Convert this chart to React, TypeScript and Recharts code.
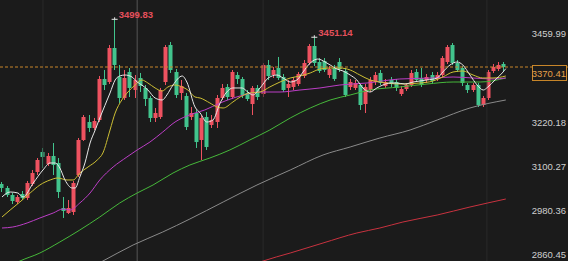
import React from 'react';
import { ComposedChart, Bar, Line, XAxis, YAxis, ReferenceLine, ReferenceDot } from 'recharts';

const W = 568;
const H = 261;
const BG = '#1b1b1b';
const RED = '#ee5260';
const GREEN = '#42c48d';

const opens = [
  3053.0, 3042.2, 3023.2, 3004.2, 3025.9, 3015.0, 3053.0, 3085.6, 3139.8, 3107.3,
  3129.0, 3110.0, 2987.9, 2974.3, 2977.0, 3077.4, 3172.4, 3221.2, 3204.9, 3226.6,
  3337.9, 3329.7, 3422.0, 3343.3, 3286.3, 3356.9, 3308.0, 3340.6, 3313.5, 3286.3,
  3232.1, 3234.8, 3329.7, 3430.1, 3356.9, 3299.9, 3291.8, 3234.8, 3245.6, 3172.4,
  3234.8, 3213.1, 3221.2, 3286.3, 3316.2, 3289.0, 3348.7, 3337.9, 3299.9, 3270.0,
  3313.5, 3297.2, 3375.9, 3348.7, 3367.7, 3343.3, 3313.5, 3316.2, 3324.3, 3346.0,
  3381.3, 3427.4, 3384.0, 3386.7, 3348.7, 3367.7, 3384.0, 3359.6, 3316.2, 3313.5,
  3321.6, 3270.0, 3308.0, 3329.7, 3354.2, 3318.9, 3335.2, 3329.7, 3297.2, 3310.7,
  3321.6, 3356.9, 3340.6, 3335.2, 3348.7, 3337.9, 3348.7, 3384.0, 3430.1, 3381.3,
  3367.7, 3321.6, 3308.0, 3321.6, 3267.3, 3286.3, 3359.6, 3365.0, 3378.6,
];
const closes = [
  3042.2, 3023.2, 3006.9, 3017.7, 3015.0, 3055.7, 3082.8, 3118.1, 3126.3, 3129.0,
  3104.6, 3031.3, 2979.8, 2987.9, 3055.7, 3172.4, 3234.8, 3204.9, 3223.9, 3337.9,
  3321.6, 3422.0, 3375.9, 3286.3, 3340.6, 3313.5, 3335.2, 3318.9, 3283.6, 3232.1,
  3245.6, 3308.0, 3424.7, 3362.3, 3294.5, 3318.9, 3207.6, 3245.6, 3166.9, 3232.1,
  3153.4, 3226.6, 3286.3, 3313.5, 3289.0, 3356.9, 3337.9, 3294.5, 3283.6, 3313.5,
  3289.0, 3375.9, 3346.0, 3362.3, 3340.6, 3308.0, 3324.3, 3335.2, 3351.4, 3381.3,
  3427.4, 3381.3, 3359.6, 3362.3, 3365.0, 3337.9, 3365.0, 3294.5, 3329.7, 3327.0,
  3267.3, 3316.2, 3335.2, 3348.7, 3327.0, 3329.7, 3324.3, 3313.5, 3310.7, 3321.6,
  3354.2, 3335.2, 3321.6, 3343.3, 3332.5, 3348.7, 3394.8, 3424.7, 3381.3, 3362.3,
  3327.0, 3308.0, 3321.6, 3267.3, 3286.3, 3356.9, 3370.4, 3375.9, 3370.41,
];
const highs = [
  3058.4, 3047.6, 3028.6, 3023.2, 3034.0, 3061.2, 3091.0, 3123.5, 3150.7, 3137.1,
  3164.2, 3123.5, 3017.7, 3009.6, 3061.2, 3177.8, 3240.2, 3240.2, 3232.1, 3346.0,
  3362.3, 3430.1, 3499.83, 3375.9, 3362.3, 3367.7, 3348.7, 3354.2, 3321.6, 3291.8,
  3259.2, 3313.5, 3430.1, 3438.3, 3365.0, 3335.2, 3299.9, 3261.9, 3253.8, 3240.2,
  3248.3, 3240.2, 3294.5, 3324.3, 3324.3, 3362.3, 3356.9, 3343.3, 3308.0, 3318.9,
  3321.6, 3381.3, 3389.4, 3370.4, 3397.6, 3351.4, 3335.2, 3343.3, 3356.9, 3389.4,
  3432.8, 3451.14, 3394.8, 3394.8, 3373.1, 3375.9, 3394.8, 3367.7, 3337.9, 3335.2,
  3327.0, 3324.3, 3343.3, 3356.9, 3362.3, 3337.9, 3343.3, 3337.9, 3318.9, 3327.0,
  3362.3, 3365.0, 3367.7, 3351.4, 3356.9, 3356.9, 3400.3, 3430.1, 3435.5, 3389.4,
  3373.1, 3327.0, 3327.0, 3327.0, 3291.8, 3362.3, 3378.6, 3384.0, 3384.0,
];
const lows = [
  3031.3, 3017.7, 2998.7, 2998.7, 3009.6, 3009.6, 3047.6, 3077.4, 3096.4, 3101.8,
  3077.4, 3015.0, 2960.8, 2971.6, 2968.9, 3072.0, 3169.7, 3194.1, 3199.5, 3221.2,
  3308.0, 3324.3, 3362.3, 3272.8, 3280.9, 3289.0, 3286.3, 3302.6, 3264.6, 3221.2,
  3221.2, 3229.4, 3321.6, 3354.2, 3286.3, 3280.9, 3199.5, 3226.6, 3150.7, 3118.1,
  3145.3, 3204.9, 3204.9, 3280.9, 3280.9, 3283.6, 3324.3, 3286.3, 3278.2, 3240.2,
  3280.9, 3289.0, 3335.2, 3340.6, 3335.2, 3302.6, 3289.0, 3308.0, 3318.9, 3340.6,
  3375.9, 3373.1, 3354.2, 3356.9, 3340.6, 3332.5, 3356.9, 3289.0, 3308.0, 3308.0,
  3253.8, 3245.6, 3302.6, 3321.6, 3321.6, 3313.5, 3316.2, 3305.3, 3291.8, 3305.3,
  3316.2, 3329.7, 3316.2, 3327.0, 3324.3, 3332.5, 3343.3, 3378.6, 3375.9, 3356.9,
  3318.9, 3299.9, 3302.6, 3261.9, 3261.9, 3280.9, 3354.2, 3359.6, 3356.9,
];

// moving averages as [candle index, value]
const ma5: [number, number][] = [
  [0, 3017.7], [1.6, 3031.3], [3.1, 3028.6], [4.1, 3017.7], [6.1, 3055.7], [8, 3091.0],
  [9.4, 3110.0], [10.4, 3110.0], [11.3, 3096.4], [12.3, 3063.9], [13.7, 3042.2], [14.3, 3042.2],
  [15.2, 3072.0], [16.2, 3110.0], [17.2, 3164.2], [18.2, 3199.5], [19.1, 3232.1], [21.1, 3299.9],
  [22.1, 3335.2], [23, 3346.0], [24, 3348.7], [25.4, 3343.3], [26.4, 3329.7], [27.3, 3321.6],
  [28.5, 3308.0], [29.9, 3286.3], [31.3, 3280.9], [32.2, 3294.5], [33.4, 3321.6], [35.2, 3346.0],
  [36.1, 3329.7], [37.7, 3261.9], [38.7, 3245.6], [40, 3221.2], [41.2, 3226.6], [42.6, 3272.8],
  [43.9, 3302.6], [45.1, 3313.5], [46.9, 3313.5], [48, 3302.6], [49, 3294.5], [50.4, 3313.5],
  [52, 3340.6], [53.7, 3348.7], [54.9, 3340.6], [56.3, 3329.7], [57.6, 3335.2], [58.8, 3356.9],
  [60.2, 3381.3], [61.7, 3392.1], [63.1, 3384.0], [64.1, 3375.9], [65.4, 3365.0], [66.6, 3359.6],
  [68, 3348.7], [69.3, 3335.2], [70.5, 3313.5], [71.9, 3302.6], [73.2, 3313.5], [74.4, 3321.6],
  [75.8, 3327.0], [77.1, 3327.0], [78.7, 3324.3], [80.3, 3329.7], [83, 3335.2], [85, 3340.6],
  [86.1, 3356.9], [87.5, 3375.9], [88.9, 3384.0], [90, 3375.9], [91.4, 3348.7], [92.8, 3321.6],
  [94, 3308.0], [94.9, 3316.2], [96.3, 3335.2], [97.7, 3354.2], [98.4, 3366.0],
];
const ma10: [number, number][] = [
  [0, 2963.5], [1.6, 2982.5], [3.5, 3004.2], [5.5, 3028.6], [7.4, 3050.3], [9.4, 3063.9],
  [10.9, 3069.3], [12.7, 3063.9], [13.9, 3063.9], [15.2, 3082.8], [16.8, 3099.1], [18.6, 3118.1],
  [19.7, 3137.1], [21.1, 3199.5], [22.1, 3245.6], [23.4, 3280.9], [24.6, 3302.6], [26, 3321.6],
  [27.3, 3335.2], [28.5, 3327.0], [29.9, 3313.5], [31.3, 3305.3], [32.4, 3316.2], [33.8, 3321.6],
  [35.2, 3316.2], [36.3, 3308.0], [37.7, 3289.0], [38.7, 3286.3], [40.6, 3272.8], [42, 3261.9],
  [43.2, 3259.2], [45.1, 3275.5], [46.5, 3289.0], [48.4, 3299.9], [50.4, 3302.6], [52.3, 3316.2],
  [54.3, 3329.7], [56.3, 3340.6], [58.2, 3346.0], [60.2, 3354.2], [62.1, 3365.0], [64.1, 3367.7],
  [66, 3367.7], [68, 3362.3], [69.9, 3348.7], [71.9, 3335.2], [73.8, 3329.7], [77.7, 3324.3],
  [81.6, 3327.0], [84.2, 3332.5], [86.1, 3343.3], [88.1, 3356.9], [90, 3359.6], [92, 3348.7],
  [93.9, 3340.6], [95.9, 3340.6], [98.4, 3346.0],
];
const ma20: [number, number][] = [
  [0, 2933.6], [2.1, 2936.3], [4.9, 2947.2], [7.4, 2960.8], [10, 2974.3], [11.9, 2985.2],
  [13.3, 2982.5], [15.2, 3001.5], [17.2, 3028.6], [19.1, 3063.9], [21.7, 3099.1], [24.4, 3126.3],
  [26.4, 3145.3], [28.9, 3166.9], [31.4, 3194.1], [33.8, 3221.2], [36.1, 3237.5], [37.7, 3245.6],
  [39.6, 3253.8], [42.6, 3272.8], [46.5, 3291.8], [50.4, 3302.6], [54.3, 3302.6], [58.2, 3308.0],
  [62.1, 3313.5], [66, 3321.6], [71.3, 3327.0], [77.7, 3337.9], [84.2, 3340.6], [88.1, 3343.3],
  [92, 3340.6], [95.9, 3337.9], [98.4, 3340.6],
];
const ma60: [number, number][] = [
  [0, 2819.7], [3.5, 2844.1], [7.4, 2865.8], [11.3, 2895.7], [15.2, 2928.2], [19.1, 2963.5],
  [23, 3001.5], [26.4, 3028.6], [29.5, 3050.3], [33.4, 3082.8], [36.7, 3104.6], [40.6, 3123.5],
  [44.5, 3145.3], [48.4, 3172.4], [52.3, 3199.5], [56.3, 3232.1], [60.2, 3259.2], [64.1, 3280.9],
  [68, 3294.5], [71.9, 3308.0], [77.7, 3316.2], [83, 3324.3], [88.1, 3329.7], [93.4, 3329.7],
  [98.4, 3340.6],
];
const ma120: [number, number][] = [
  [18.2, 2833.3], [19.7, 2844.1], [25.6, 2887.5], [31.4, 2922.8], [36.7, 2958.1], [43.2, 3004.2],
  [49.8, 3050.3], [56.3, 3091.0], [62.7, 3131.7], [68, 3153.4], [73.8, 3177.8], [79.7, 3199.5],
  [85, 3226.6], [91.4, 3259.2], [98.4, 3280.9],
];
const ma250: [number, number][] = [
  [49.4, 2836.0], [51, 2844.1], [56.3, 2865.8], [62.7, 2892.9], [69.3, 2920.1], [73.8, 2933.6],
  [78.3, 2949.9], [85, 2968.9], [91.4, 2990.6], [98.4, 3012.3],
];

const yTicks = [3459.99, 3220.18, 3100.27, 2980.36, 2860.45];
const lastPrice = 3370.41;
const peakMarks: [number, number][] = [[22, 3499.83], [61, 3451.14]];
const faintGrid = [8.0, 51.0, 94.7];
const crosshairX = 26.4;

const candles = opens.map((o, i) => ({
  i,
  open: o,
  close: closes[i],
  high: highs[i],
  low: lows[i],
  range: [lows[i], highs[i]],
}));
const toPts = (arr: [number, number][]) => arr.map(([i, v]) => ({ i, v }));

const FONT = "'Liberation Sans', Arial, sans-serif";

const Candle = (props: any) => {
  const { x, y, width, height, payload } = props;
  if (!payload || x == null) return null;
  const { open, close, high, low } = payload;
  const up = close >= open;
  const color = up ? RED : GREEN;
  const span = high - low || 1;
  const k = height / span;
  const yO = y + (high - open) * k;
  const yC = y + (high - close) * k;
  const top = Math.min(yO, yC);
  const bh = Math.max(1, Math.abs(yO - yC));
  const cx = Math.floor(x + width / 2) + 0.5;
  return (
    <g>
      <line x1={cx} x2={cx} y1={y} y2={y + height} stroke={color} strokeWidth={1} />
      <rect x={cx - 2} y={top} width={4} height={bh} fill={color} />
    </g>
  );
};

const YTick = (props: any) => {
  const { y, payload } = props;
  return (
    <text x={W - 2} y={y} textAnchor="end" dominantBaseline="central" fill="#cfcfcf"
      fontSize={9.5} fontFamily={FONT}>
      {Number(payload.value).toFixed(2)}
    </text>
  );
};

const PriceTag = (props: any) => {
  const vb = props.viewBox || {};
  const vy = vb.y ?? 67;
  return (
    <g>
      <rect x={532.5} y={vy - 1.5} width={34} height={15} fill={BG} stroke="#c8862a" strokeWidth={1} />
      <text x={W - 2} y={vy + 6.5} textAnchor="end" dominantBaseline="central" fill="#e6a04a"
        fontSize={9.5} fontFamily={FONT}>
        {lastPrice.toFixed(2)}
      </text>
    </g>
  );
};

const PeakMark = (value: number) => (props: any) => {
  const { cx, cy } = props;
  return (
    <g>
      <line x1={cx - 3} x2={cx + 3} y1={cy} y2={cy} stroke="#e8e8e8" strokeWidth={1} />
      <line x1={cx} x2={cx} y1={cy - 2} y2={cy} stroke="#e8e8e8" strokeWidth={1} />
      <text x={cx + 4} y={cy - 5} dominantBaseline="central" fill="#e4505c" fontSize={9.5}
        fontWeight="bold" fontFamily={FONT}>
        {value.toFixed(2)}
      </text>
    </g>
  );
};

const lines: { data: [number, number][]; color: string }[] = [
  { data: ma250, color: '#c8323f' },
  { data: ma120, color: '#8a8a8a' },
  { data: ma60, color: '#46b83a' },
  { data: ma20, color: '#bc3ec6' },
  { data: ma10, color: '#cdbf34' },
  { data: ma5, color: '#e8e8e8' },
];

export default function App() {
  return (
    <div style={{ position: 'fixed', left: 0, top: 0, width: W, height: H, background: BG }}>
      <ComposedChart width={W} height={H} data={candles} margin={{ top: 0, right: 0, bottom: 0, left: 0 }}>
        <XAxis dataKey="i" type="number" domain={[-2 / 5.12, (W - 2) / 5.12]} allowDataOverflow hide />
        <YAxis orientation="right" mirror width={70} domain={[2844.1, 3552.2]} allowDataOverflow
          ticks={yTicks} interval={0} axisLine={false} tickLine={false} tick={<YTick />} />
        {faintGrid.map((g) => (
          <ReferenceLine key={g} x={g} stroke="#2a2a2a" strokeWidth={1} />
        ))}
        <ReferenceLine x={crosshairX} stroke="#555555" strokeWidth={1} />
        <Bar dataKey="range" barSize={4} shape={<Candle />} isAnimationActive={false} />
        {lines.map((l, idx) => (
          <Line key={idx} data={toPts(l.data)} dataKey="v" type="monotone" stroke={l.color}
            strokeWidth={1} dot={false} activeDot={false} isAnimationActive={false} />
        ))}
        <ReferenceLine y={lastPrice} stroke="#c8862a" strokeDasharray="3 2" strokeWidth={1}
          label={<PriceTag />} />
        {peakMarks.map(([i, v]) => (
          <ReferenceDot key={i} x={i} y={v} r={0} shape={PeakMark(v)} />
        ))}
      </ComposedChart>
    </div>
  );
}
